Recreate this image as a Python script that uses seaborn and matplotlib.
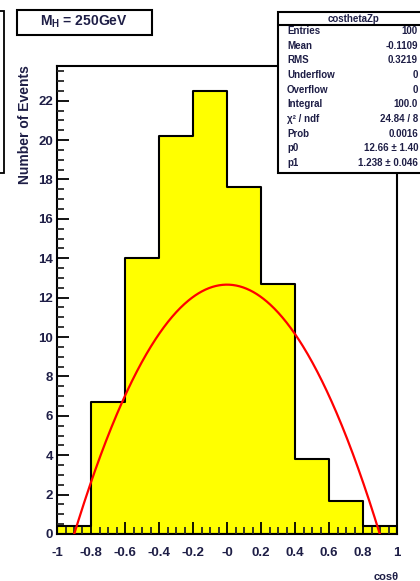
import numpy as np
import pandas as pd
import matplotlib
matplotlib.use("Agg")
import matplotlib.pyplot as plt
from matplotlib.patches import Rectangle
from matplotlib.lines import Line2D
from matplotlib.ticker import FixedLocator, MultipleLocator
import seaborn as sns

# Histogram of cos(theta): 10 bins of width 0.2 on [-1, 1]
bin_edges = [-1.0, -0.8, -0.6, -0.4, -0.2, 0.0, 0.2, 0.4, 0.6, 0.8, 1.0]
counts = [0.4, 6.7, 14.0, 20.2, 22.5, 17.6, 12.7, 3.8, 1.7, 0.4]

# Fit parameters of p0 * (1 - p1 * x^2)
p0 = 12.66
p1 = 1.238

x_tick_values = [-1.0, -0.8, -0.6, -0.4, -0.2, 0.0, 0.2, 0.4, 0.6, 0.8, 1.0]
x_tick_labels = ["-1", "-0.8", "-0.6", "-0.4", "-0.2", "-0", "0.2", "0.4", "0.6", "0.8", "1"]

stat_names = ["Entries", "Mean", "RMS", "Underflow", "Overflow", "Integral",
              "\u03c7\u00b2 / ndf", "Prob", "p0", "p1"]
stat_values = ["100", "-0.1109", "0.3219", "0", "0", "100.0",
               "24.84 / 8", "0.0016", "12.66 \u00b1 1.40", "1.238 \u00b1 0.046"]

sns.set_style("ticks")
plt.rcParams["font.family"] = ["Liberation Sans", "DejaVu Sans"]
plt.rcParams["font.weight"] = "bold"
plt.rcParams["mathtext.fontset"] = "custom"
plt.rcParams["mathtext.rm"] = "Liberation Sans:bold"
plt.rcParams["mathtext.bf"] = "Liberation Sans:bold"
plt.rcParams["mathtext.it"] = "Liberation Sans:bold"

W, H = 420, 581
fig = plt.figure(figsize=(W / 100, H / 100), dpi=100)
fig.patch.set_facecolor("white")


def fx(px):
    return px / W


def fy(py):
    return 1 - py / H


ax = fig.add_axes([fx(57), fy(534), fx(397) - fx(57), fy(66) - fy(534)])

centers = [(a + b) / 2 for a, b in zip(bin_edges[:-1], bin_edges[1:])]
df = pd.DataFrame({"cos": centers, "n": counts})
sns.histplot(data=df, x="cos", weights="n", bins=bin_edges, element="step",
             fill=True, color="#ffff00", alpha=1.0, edgecolor="black",
             linewidth=1.5, ax=ax)

xs = np.linspace(-1, 1, 500)
fit = pd.DataFrame({"x": xs, "y": p0 * (1 - p1 * xs ** 2)})
sns.lineplot(data=fit, x="x", y="y", color="red", linewidth=1.6, ax=ax, zorder=3)

ax.set_xlim(-1, 1)
ax.set_ylim(0, 23.76)
ax.set_xlabel("")
ax.set_ylabel("")

ax.xaxis.set_major_locator(FixedLocator(x_tick_values))
ax.set_xticklabels(x_tick_labels)
ax.xaxis.set_minor_locator(MultipleLocator(0.05))
ax.yaxis.set_major_locator(MultipleLocator(2))
ax.yaxis.set_minor_locator(MultipleLocator(0.5))

label_color = "#1e1e46"
ax.tick_params(axis="both", which="major", direction="in", length=8.5, width=1.3,
               labelsize=9.5, colors="black", labelcolor=label_color,
               top=False, right=False)
ax.tick_params(axis="both", which="minor", direction="in", length=5, width=1.3,
               top=False, right=False)
ax.tick_params(axis="x", which="major", pad=9)
ax.tick_params(axis="y", which="major", pad=3)
for lab in ax.get_xticklabels() + ax.get_yticklabels():
    lab.set_fontweight("bold")
for sp in ax.spines.values():
    sp.set_visible(True)
    sp.set_linewidth(1.5)
    sp.set_color("black")
ax.set_axisbelow(False)

# Axis titles
fig.text(fx(25), fy(65), "Number of Events", rotation=90, ha="center", va="top",
         fontsize=10, fontweight="bold", color=label_color)
fig.text(fx(399), fy(577), "cos\u03b8", ha="right", va="center",
         fontsize=8, fontweight="bold", color=label_color)

# Title box
fig.patches.append(Rectangle((fx(17), fy(35)), fx(152) - fx(17), fy(10) - fy(35),
                             transform=fig.transFigure, facecolor="white",
                             edgecolor="black", linewidth=1.5, zorder=5))
fig.text(fx(84), fy(22), r"$\mathbf{M_{H}}$ = 250GeV", ha="center", va="center",
         fontsize=10, fontweight="bold", color=label_color, zorder=6)

# Legend box at the left edge
fig.patches.append(Rectangle((fx(-30), fy(173)), fx(4) - fx(-30), fy(11) - fy(173),
                             transform=fig.transFigure, facecolor="white",
                             edgecolor="black", linewidth=1.3, zorder=5))

# Statistics box
box_l, box_r, box_t, box_b = 278, 445, 12, 173
fig.patches.append(Rectangle((fx(box_l), fy(box_b)), fx(box_r) - fx(box_l),
                             fy(box_t) - fy(box_b), transform=fig.transFigure,
                             facecolor="white", edgecolor="black", linewidth=1.5,
                             zorder=5))
fig.lines.append(Line2D([fx(box_l), fx(box_r)], [fy(25), fy(25)],
                        transform=fig.transFigure, color="black", linewidth=1.5,
                        zorder=6))
fig.text(fx(354), fy(18.5), "costhetaZp", ha="center", va="center", fontsize=7,
         fontweight="bold", color=label_color, zorder=7)
for i, (name, val) in enumerate(zip(stat_names, stat_values)):
    yy = 31 + i * 14.67
    fig.text(fx(287), fy(yy), name, ha="left", va="center", fontsize=7,
             fontweight="bold", color=label_color, zorder=7)
    fig.text(fx(418), fy(yy), val, ha="right", va="center", fontsize=7,
             fontweight="bold", color=label_color, zorder=7)

fig.savefig("out.png", dpi=100)
